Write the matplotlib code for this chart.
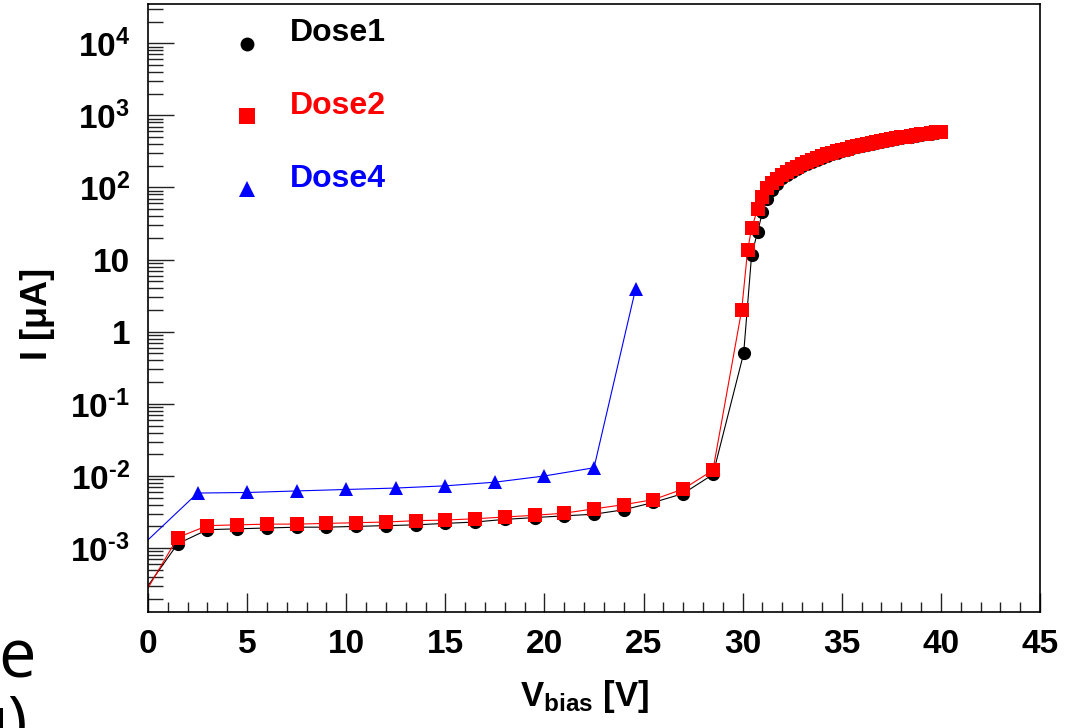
import math
import matplotlib
matplotlib.use("Agg")
import matplotlib.pyplot as plt
from matplotlib.ticker import LogLocator, MultipleLocator, FuncFormatter, NullFormatter

plt.rcParams['font.family'] = ['Liberation Sans', 'DejaVu Sans']
plt.rcParams['font.weight'] = 'bold'
plt.rcParams['mathtext.fontset'] = 'custom'
plt.rcParams['mathtext.rm'] = 'Liberation Sans:bold'
plt.rcParams['mathtext.it'] = 'Liberation Sans:bold'
plt.rcParams['mathtext.bf'] = 'Liberation Sans:bold'
plt.rcParams['mathtext.default'] = 'rm'

# Dose1 (black circles)
v_dose1 = [0, 1.5, 3, 4.5, 6, 7.5, 9, 10.5, 12, 13.5, 15, 16.5, 18, 19.5, 21, 22.5, 24, 25.5, 27, 28.5,
           30.05, 30.45, 30.75, 31.0, 31.25, 31.5, 31.75, 32.0, 32.25, 32.5, 32.75, 33.0, 33.25, 33.5, 33.75,
           34.0, 34.25, 34.5, 34.75, 35.0, 35.25, 35.5, 35.75, 36.0, 36.25, 36.5, 36.75, 37.0, 37.25, 37.5,
           37.75, 38.0, 38.25, 38.5, 38.75, 39.0, 39.25, 39.5, 39.75, 40.0]
i_dose1 = [3.0e-4, 1.15e-3, 1.8e-3, 1.85e-3, 1.9e-3, 1.95e-3, 1.95e-3, 2.0e-3, 2.05e-3, 2.1e-3, 2.2e-3, 2.3e-3,
           2.5e-3, 2.65e-3, 2.8e-3, 2.95e-3, 3.4e-3, 4.3e-3, 5.7e-3, 1.05e-2,
           0.5, 11.5, 24, 46, 70, 92, 113, 134, 150, 166, 182, 197, 212, 228, 244,
           258, 274, 289, 304, 320, 335, 350, 364, 378, 392, 406, 420, 432, 446, 458,
           472, 485, 497, 509, 521, 534, 547, 560, 574, 590]

# Dose2 (red squares)
v_dose2 = [0, 1.5, 3, 4.5, 6, 7.5, 9, 10.5, 12, 13.5, 15, 16.5, 18, 19.5, 21, 22.5, 24, 25.5, 27, 28.5,
           29.95, 30.25, 30.45, 30.75, 31.0, 31.25, 31.5, 31.75, 32.0, 32.25, 32.5, 32.75, 33.0, 33.25, 33.5,
           33.75, 34.0, 34.25, 34.5, 34.75, 35.0, 35.25, 35.5, 35.75, 36.0, 36.25, 36.5, 36.75, 37.0, 37.25,
           37.5, 37.75, 38.0, 38.25, 38.5, 38.75, 39.0, 39.25, 39.5, 39.75, 40.0]
i_dose2 = [2.8e-4, 1.4e-3, 2.05e-3, 2.1e-3, 2.15e-3, 2.15e-3, 2.2e-3, 2.25e-3, 2.3e-3, 2.4e-3, 2.45e-3, 2.55e-3,
           2.7e-3, 2.85e-3, 3.05e-3, 3.5e-3, 4.0e-3, 4.7e-3, 6.6e-3, 1.2e-2,
           2.0, 13.5, 27, 50, 74, 98, 115, 132, 148, 162, 178, 195, 209, 224, 240,
           257, 269, 288, 302, 316, 331, 347, 363, 376, 389, 403, 417, 432, 442, 457,
           468, 484, 495, 507, 519, 531, 543, 556, 569, 582, 596]

# Dose4 (blue triangles)
v_dose4 = [0, 2.5, 5, 7.5, 10, 12.5, 15, 17.5, 20, 22.5, 24.6]
i_dose4 = [1.3e-3, 5.8e-3, 5.9e-3, 6.2e-3, 6.5e-3, 6.8e-3, 7.3e-3, 8.2e-3, 1.0e-2, 1.3e-2, 3.95]

labels = ["Dose1", "Dose2", "Dose4"]
colors = ["black", "red", "blue"]
markers = ["o", "s", "^"]

fig = plt.figure(figsize=(10.71, 7.28), dpi=100)
ax = fig.add_axes([148 / 1071, 1 - 612 / 728, 892 / 1071, 608 / 728])

series = [(v_dose1, i_dose1), (v_dose2, i_dose2), (v_dose4, i_dose4)]
msizes = [9.5, 9.5, 9.5]
for (vx, iy), c, m, ms in zip(series, colors, markers, msizes):
    ax.plot(vx, iy, color=c, lw=0.8, marker=m, ms=ms, mfc=c, mec=c, mew=0,
            markevery=slice(1, None))

ax.set_yscale('log')
ax.set_xlim(0, 45)
ax.set_ylim(1.3e-4, 3.5e4)

ax.xaxis.set_major_locator(MultipleLocator(5))
ax.xaxis.set_minor_locator(MultipleLocator(1))
ax.yaxis.set_major_locator(LogLocator(base=10, numticks=20))
ax.yaxis.set_minor_locator(LogLocator(base=10, subs=range(2, 10), numticks=20))
ax.yaxis.set_minor_formatter(NullFormatter())


def ylab(v, pos):
    e = int(round(math.log10(v)))
    if e == 0:
        return "1"
    if e == 1:
        return "10"
    if e < 0:
        return r"$10^{\text{-}%d}$" % (-e)
    return r"$10^{%d}$" % e


ax.yaxis.set_major_formatter(FuncFormatter(ylab))

ax.tick_params(axis='both', which='both', direction='in', top=False, right=False,
               labelsize=24, width=1.0, color='#222222')
ax.tick_params(axis='y', which='major', length=19, pad=13)
ax.tick_params(axis='y', which='minor', length=11)
ax.tick_params(axis='x', which='major', length=14, pad=12)
ax.tick_params(axis='x', which='minor', length=7)
for t in ax.get_xticklabels() + ax.get_yticklabels():
    t.set_fontweight('bold')
for s in ax.spines.values():
    s.set_linewidth(1.2)

ax.set_xlabel(r"V$_{\mathregular{bias}}$ [V]", fontsize=25, fontweight='bold')
ax.set_ylabel("I [μA]", fontsize=26, fontweight='bold')
ax.xaxis.set_label_coords(0.49, -0.108)
ax.yaxis.set_label_coords(-0.104, 0.49)

# legend
leg_ms = [10, 11, 11]
for k, (lab, c, m) in enumerate(zip(labels, colors, markers)):
    ax.plot([0.111], [0.934 - 0.119 * k], transform=ax.transAxes, marker=m, ms=leg_ms[k], color=c,
            mew=0, ls='none', clip_on=False)
    ax.text(0.159, 0.952 - 0.12 * k, lab, transform=ax.transAxes, color=c, fontsize=23,
            fontweight='bold', va='center', ha='left')

# leftover slide text
fig.text(-0.002, 0.069, "e", fontsize=48, family='Open Sans', fontweight='normal', va='baseline')
fig.text(-0.03, -0.022, "u)", fontsize=48, family='Open Sans', fontweight='normal', va='baseline')

fig.savefig("out.png", dpi=100)
